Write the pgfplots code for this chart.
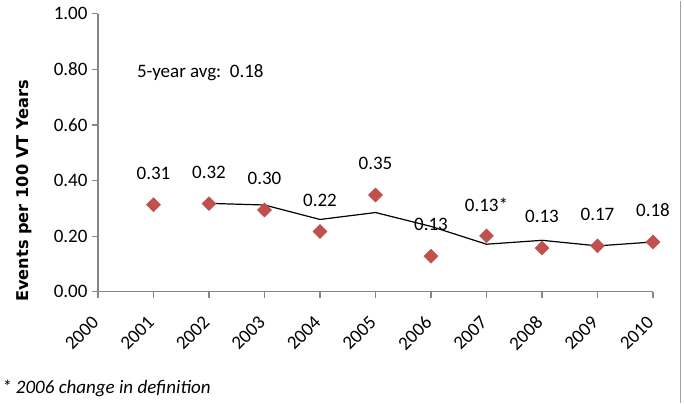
\documentclass[border=0pt]{standalone}
\usepackage{fontspec}
\setmainfont{Carlito}
\newfontfamily\labelfont{DejaVu Sans}
\usepackage{pgfplots}
\usepackage{pgfplotstable}
\pgfplotsset{compat=1.18}
\definecolor{mk}{HTML}{C0504D}
\definecolor{ax}{HTML}{868686}
\definecolor{bord}{HTML}{A0A0A0}
\pgfplotstableread{
x y lab
2001 0.313 0.31
2002 0.317 0.32
2003 0.294 0.30
2004 0.217 0.22
2005 0.348 0.35
2006 0.128 0.13
2007 0.201 0.13*
2008 0.157 0.13
2009 0.165 0.17
2010 0.179 0.18
}\rates
\pgfplotstableread{
x y
2002 0.318
2003 0.312
2004 0.260
2005 0.285
2006 0.235
2007 0.171
2008 0.185
2009 0.165
2010 0.179
}\avg
\begin{document}
\fontsize{19bp}{22bp}\selectfont
\begin{tikzpicture}
\begin{axis}[
  scale only axis, width=555bp, height=278bp,
  xmin=2000, xmax=2010, ymin=0, ymax=1,
  axis lines=left,
  axis line style={draw=ax, line width=1.3bp, -},
  xtick={2000,2001,...,2010},
  ytick={0,0.2,0.4,0.6,0.8,1},
  tick align=outside,
  major tick length=6bp,
  tick style={draw=ax, line width=1.3bp},
  /pgf/number format/assume math mode=true,
  /pgf/number format/1000 sep={},
  yticklabel style={/pgf/number format/fixed, /pgf/number format/fixed zerofill, /pgf/number format/precision=2, font=\fontsize{19bp}{22bp}\selectfont, xshift=2bp},
  xticklabel style={font=\fontsize{19bp}{22bp}\selectfont, yshift=-17bp, xshift=2bp, rotate=45, anchor=east},
  ylabel={Events per 100 VT Years},
  ylabel style={at={(axis description cs:-0.133,0.363)}, anchor=center, font=\labelfont\bfseries\fontsize{16.2bp}{19bp}\selectfont},
  clip=false,
]
\addplot[only marks, mark=square*, mark size=5bp, mark options={rotate=45, fill=mk, draw=mk}] table[x=x, y=y] {\rates};
\addplot[black, line width=1.2bp, mark=none] table[x=x, y=y] {\avg};
\addplot[only marks, mark=none, point meta=explicit symbolic,
  nodes near coords, nodes near coords style={anchor=center, yshift=31.5bp, font=\fontsize{19bp}{22bp}\selectfont, text=black}]
  table[x=x, y=y, meta=lab] {\rates};
\node[anchor=base west, inner sep=0pt] at (axis cs:2000.70,0.769) {5-year avg:\ \ 0.18};
\node[anchor=base west, inner sep=0pt, font=\itshape\fontsize{19bp}{22bp}\selectfont] at (axis description cs:-0.173,-0.367) {* 2006 change in definition};
\end{axis}
\draw[bord, line width=1.5bp] (582.5bp,-111bp) -- (582.5bp,291bp);
\path[use as bounding box] (-98bp,-111bp) rectangle (586bp,291bp);
\end{tikzpicture}
\end{document}
